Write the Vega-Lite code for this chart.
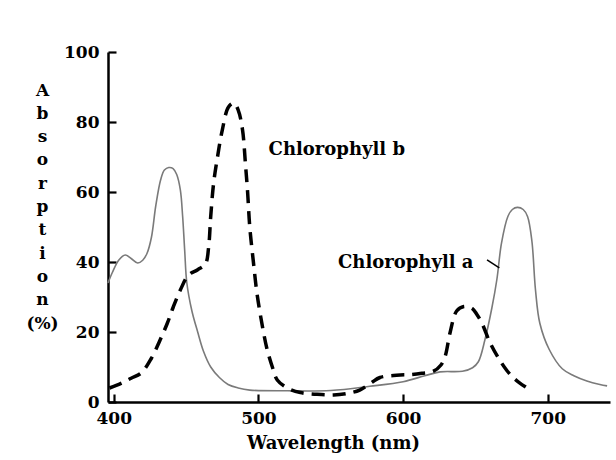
{
  "$schema": "https://vega.github.io/schema/vega-lite/v6.json",
  "width": 502,
  "height": 350,
  "autosize": {"type": "none"},
  "padding": {"left": 108, "top": 52, "right": 6, "bottom": 58},
  "background": "white",
  "config": {"view": {"stroke": null}, "font": "DejaVu Serif"},
  "datasets": {
    "curves": [
      {"series": "a", "wl": 396, "pct": 34},
      {"series": "a", "wl": 399, "pct": 37},
      {"series": "a", "wl": 403.5, "pct": 40.6},
      {"series": "a", "wl": 408, "pct": 42},
      {"series": "a", "wl": 412, "pct": 41},
      {"series": "a", "wl": 416.5, "pct": 39.7},
      {"series": "a", "wl": 420, "pct": 40.5},
      {"series": "a", "wl": 423, "pct": 42.5},
      {"series": "a", "wl": 426, "pct": 47},
      {"series": "a", "wl": 429, "pct": 56},
      {"series": "a", "wl": 432.4, "pct": 63.5},
      {"series": "a", "wl": 435, "pct": 66.3},
      {"series": "a", "wl": 438, "pct": 67},
      {"series": "a", "wl": 441, "pct": 66.7},
      {"series": "a", "wl": 443.5, "pct": 65},
      {"series": "a", "wl": 446, "pct": 60.6},
      {"series": "a", "wl": 447.6, "pct": 53},
      {"series": "a", "wl": 449, "pct": 43.4},
      {"series": "a", "wl": 450.5, "pct": 34},
      {"series": "a", "wl": 454, "pct": 26},
      {"series": "a", "wl": 458, "pct": 20},
      {"series": "a", "wl": 462, "pct": 14.5},
      {"series": "a", "wl": 467, "pct": 10},
      {"series": "a", "wl": 473, "pct": 7},
      {"series": "a", "wl": 479, "pct": 5},
      {"series": "a", "wl": 486, "pct": 4},
      {"series": "a", "wl": 494, "pct": 3.4},
      {"series": "a", "wl": 520, "pct": 3.2},
      {"series": "a", "wl": 550, "pct": 3.3},
      {"series": "a", "wl": 577, "pct": 4.5},
      {"series": "a", "wl": 600, "pct": 5.8},
      {"series": "a", "wl": 615, "pct": 7.5},
      {"series": "a", "wl": 625.5, "pct": 8.6},
      {"series": "a", "wl": 641, "pct": 8.8},
      {"series": "a", "wl": 648, "pct": 9.8},
      {"series": "a", "wl": 652, "pct": 11.5},
      {"series": "a", "wl": 656.5, "pct": 17.7},
      {"series": "a", "wl": 661.4, "pct": 27},
      {"series": "a", "wl": 664.8, "pct": 35},
      {"series": "a", "wl": 668, "pct": 45.4},
      {"series": "a", "wl": 672.4, "pct": 53},
      {"series": "a", "wl": 675.5, "pct": 55},
      {"series": "a", "wl": 679, "pct": 55.6},
      {"series": "a", "wl": 683, "pct": 55},
      {"series": "a", "wl": 686, "pct": 53},
      {"series": "a", "wl": 689, "pct": 46},
      {"series": "a", "wl": 691.5, "pct": 32},
      {"series": "a", "wl": 694.5, "pct": 22.5},
      {"series": "a", "wl": 701, "pct": 15},
      {"series": "a", "wl": 710, "pct": 9.5},
      {"series": "a", "wl": 718, "pct": 7.5},
      {"series": "a", "wl": 727, "pct": 6},
      {"series": "a", "wl": 736, "pct": 5},
      {"series": "a", "wl": 741, "pct": 4.6},
      {"series": "b", "wl": 397, "pct": 4},
      {"series": "b", "wl": 405, "pct": 5.3},
      {"series": "b", "wl": 412, "pct": 6.8},
      {"series": "b", "wl": 419, "pct": 8.3},
      {"series": "b", "wl": 426, "pct": 12.5},
      {"series": "b", "wl": 432, "pct": 17.7},
      {"series": "b", "wl": 437, "pct": 22.5},
      {"series": "b", "wl": 441, "pct": 27},
      {"series": "b", "wl": 446, "pct": 32},
      {"series": "b", "wl": 451.7, "pct": 36.3},
      {"series": "b", "wl": 458, "pct": 37.8},
      {"series": "b", "wl": 463.4, "pct": 39.5},
      {"series": "b", "wl": 465.5, "pct": 44},
      {"series": "b", "wl": 467, "pct": 53},
      {"series": "b", "wl": 469, "pct": 62.5},
      {"series": "b", "wl": 471.7, "pct": 70},
      {"series": "b", "wl": 475, "pct": 77.7},
      {"series": "b", "wl": 479.3, "pct": 84.3},
      {"series": "b", "wl": 483, "pct": 85.4},
      {"series": "b", "wl": 486, "pct": 83.4},
      {"series": "b", "wl": 489, "pct": 77.7},
      {"series": "b", "wl": 491, "pct": 68},
      {"series": "b", "wl": 492.5, "pct": 60},
      {"series": "b", "wl": 494, "pct": 50},
      {"series": "b", "wl": 496.5, "pct": 40},
      {"series": "b", "wl": 499, "pct": 31},
      {"series": "b", "wl": 503, "pct": 21},
      {"series": "b", "wl": 506, "pct": 15},
      {"series": "b", "wl": 510, "pct": 9.5},
      {"series": "b", "wl": 513, "pct": 6.3},
      {"series": "b", "wl": 520, "pct": 4},
      {"series": "b", "wl": 529, "pct": 2.7},
      {"series": "b", "wl": 540, "pct": 2.2},
      {"series": "b", "wl": 552, "pct": 2},
      {"series": "b", "wl": 562, "pct": 2.5},
      {"series": "b", "wl": 570, "pct": 3.4},
      {"series": "b", "wl": 578, "pct": 5.5},
      {"series": "b", "wl": 584, "pct": 7},
      {"series": "b", "wl": 598, "pct": 7.7},
      {"series": "b", "wl": 605, "pct": 7.8},
      {"series": "b", "wl": 613, "pct": 8.2},
      {"series": "b", "wl": 621, "pct": 8.8},
      {"series": "b", "wl": 626, "pct": 10.5},
      {"series": "b", "wl": 629, "pct": 13},
      {"series": "b", "wl": 632.4, "pct": 19.7},
      {"series": "b", "wl": 637, "pct": 26},
      {"series": "b", "wl": 642, "pct": 27.3},
      {"series": "b", "wl": 647.6, "pct": 26.8},
      {"series": "b", "wl": 651, "pct": 25},
      {"series": "b", "wl": 654.5, "pct": 22.5},
      {"series": "b", "wl": 660, "pct": 17},
      {"series": "b", "wl": 666, "pct": 12.5},
      {"series": "b", "wl": 671.7, "pct": 9},
      {"series": "b", "wl": 676, "pct": 7},
      {"series": "b", "wl": 680.7, "pct": 5.4},
      {"series": "b", "wl": 688, "pct": 3.4}
    ],
    "labels": [
      {"wl": 507, "pct": 70.5, "text": "Chlorophyll b"},
      {"wl": 555, "pct": 38.3, "text": "Chlorophyll a"}
    ],
    "leader": [
      {"wl": 658, "pct": 40.6, "wl2": 666.5, "pct2": 38.3}
    ]
  },
  "layer": [
    {
      "data": {"name": "curves"},
      "transform": [{"filter": "datum.series === 'a'"}],
      "mark": {"type": "line", "color": "#7a7a7a", "strokeWidth": 1.6, "interpolate": "catmull-rom"},
      "encoding": {
        "x": {
          "field": "wl", "type": "quantitative",
          "scale": {"domain": [396, 743], "nice": false, "zero": false},
          "axis": {
            "values": [400, 500, 600, 700],
            "grid": false,
            "domainColor": "black", "domainWidth": 2.5,
            "tickColor": "black", "tickWidth": 2.2, "tickSize": -8,
            "labelFont": "DejaVu Serif", "labelFontSize": 17, "labelFontWeight": "bold", "labelColor": "black",
            "labelPadding": 16,
            "title": "Wavelength (nm)",
            "titleFont": "DejaVu Serif", "titleFontSize": 18, "titleFontWeight": "bold", "titleColor": "black",
            "titleX": 225, "titleY": 41, "titleBaseline": "middle", "titleAlign": "center"
          }
        },
        "y": {
          "field": "pct", "type": "quantitative",
          "scale": {"domain": [0, 100], "nice": false},
          "axis": {
            "values": [0, 20, 40, 60, 80, 100],
            "grid": false,
            "domainColor": "black", "domainWidth": 2.5,
            "tickColor": "black", "tickWidth": 2.2, "tickSize": -8,
            "labelFont": "DejaVu Serif", "labelFontSize": 17, "labelFontWeight": "bold", "labelColor": "black",
            "labelPadding": 17,
            "title": ["A", "b", "s", "o", "r", "p", "t", "i", "o", "n", "(%)"],
            "titleFont": "DejaVu Serif", "titleFontSize": 17, "titleFontWeight": "bold", "titleColor": "black",
            "titleAngle": 0, "titleX": -66, "titleY": 30, "titleAlign": "center", "titleBaseline": "top",
            "titleLineHeight": 23.3
          }
        }
      }
    },
    {
      "data": {"name": "curves"},
      "transform": [{"filter": "datum.series === 'b'"}],
      "mark": {"type": "line", "color": "black", "strokeWidth": 3.5, "strokeDash": [13, 8], "interpolate": "catmull-rom"},
      "encoding": {
        "x": {"field": "wl", "type": "quantitative"},
        "y": {"field": "pct", "type": "quantitative"}
      }
    },
    {
      "data": {"name": "leader"},
      "mark": {"type": "rule", "color": "black", "strokeWidth": 1.5},
      "encoding": {
        "x": {"field": "wl", "type": "quantitative"},
        "y": {"field": "pct", "type": "quantitative"},
        "x2": {"field": "wl2"},
        "y2": {"field": "pct2"}
      }
    },
    {
      "data": {"name": "labels"},
      "mark": {"type": "text", "align": "left", "baseline": "alphabetic", "font": "DejaVu Serif", "fontSize": 18, "fontWeight": "bold", "color": "black"},
      "encoding": {
        "x": {"field": "wl", "type": "quantitative"},
        "y": {"field": "pct", "type": "quantitative"},
        "text": {"field": "text"}
      }
    }
  ]
}
